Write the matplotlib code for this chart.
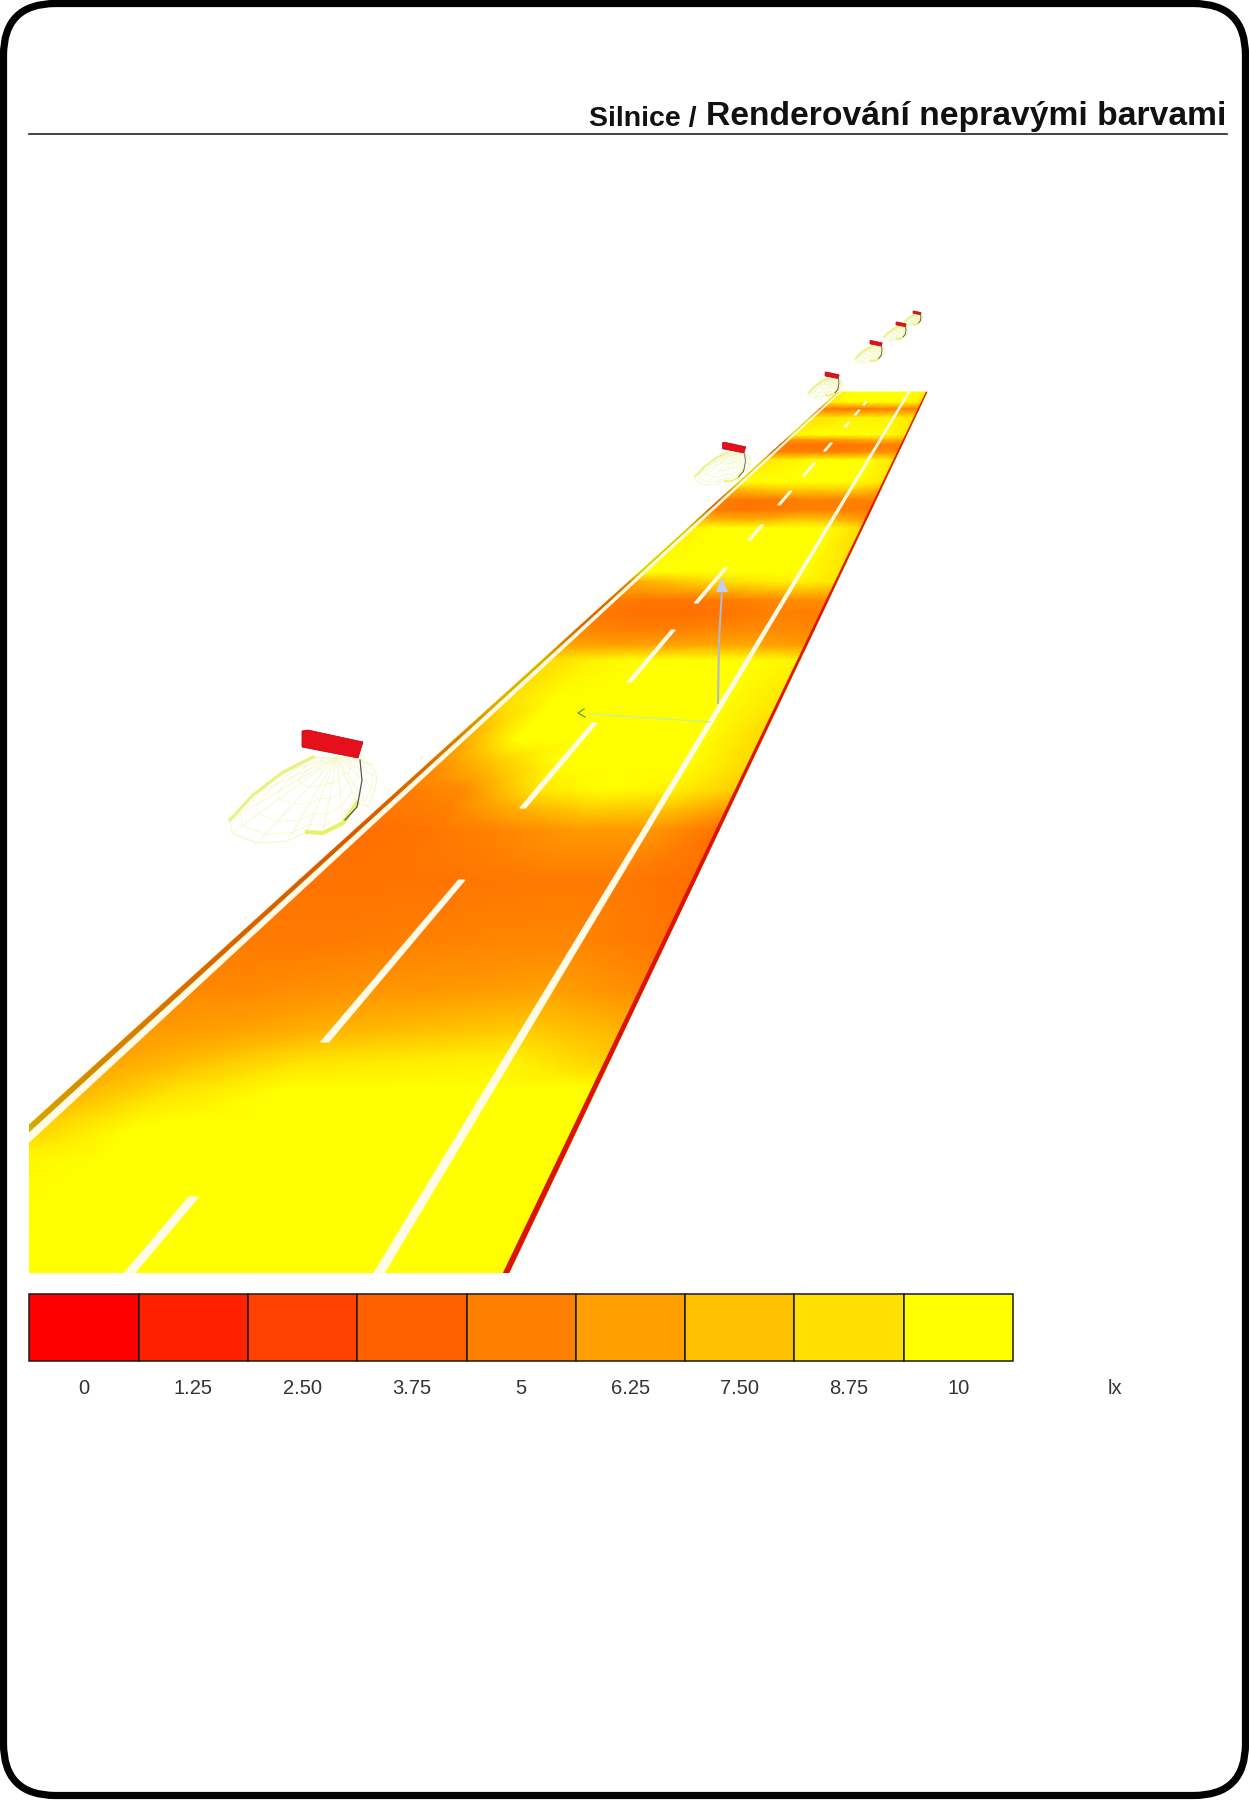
"""False-colour road rendering page (Silnice / Renderování nepravými barvami)."""

import numpy as np
import matplotlib
matplotlib.use("Agg")
import matplotlib.pyplot as plt
from matplotlib.colors import LinearSegmentedColormap
from matplotlib.patches import FancyBboxPatch, Polygon, Rectangle

plt.rcParams["font.family"] = ["Liberation Sans", "DejaVu Sans"]

# legend of the false colours
LEGEND_VALUES = [0, 1.25, 2.5, 3.75, 5, 6.25, 7.5, 8.75, 10]
LEGEND_LABELS = ["0", "1.25", "2.50", "3.75", "5", "6.25", "7.50", "8.75", "10"]
UNIT = "lx"

# illuminance read off the road: one row per picture height, one column per
# fraction of the road width (left edge to right edge)
FIELD_U = [0.0, 0.2, 0.4, 0.6, 0.8, 1.0]
FIELD_Y = [392, 402, 409, 418, 435, 440, 445, 452, 460, 482, 490, 500, 510, 520,
           528, 572, 582, 600, 613, 630, 645, 660, 700, 740, 765, 790, 810, 830, 880,
           940, 990, 1030, 1060, 1090, 1127, 1160, 1273]
FIELD_LUX = [
    [9.5, 10, 10, 10, 10, 9.5],
    [9, 10, 10, 10, 10, 9],
    [5, 4.5, 4.5, 4.8, 5, 5],
    [9, 9, 9.5, 9.5, 9.5, 9],
    [9.5, 10, 10, 10, 10, 9],
    [6, 6, 6, 6.5, 7, 7],
    [4.8, 4.5, 4.5, 4.6, 4.8, 5],
    [5, 5, 5, 5, 5.5, 5.5],
    [9, 9.5, 10, 10, 10, 9],
    [10, 10, 10, 10, 10, 9],
    [7, 7.5, 8, 8, 8, 7],
    [5, 4.6, 4.8, 5, 5, 5],
    [5, 4.6, 4.8, 5, 5, 4.8],
    [7.5, 7, 7, 8, 7.5, 6],
    [9.5, 10, 10, 10, 10, 8.5],
    [10, 10, 10, 10, 10, 9],
    [6.5, 7.5, 8.5, 9, 9.5, 9],
    [5, 4.6, 4.6, 5, 5.5, 5.5],
    [4.8, 4.4, 4.4, 4.6, 5, 5],
    [5.3, 5, 5, 5.3, 5.5, 5.3],
    [6.5, 6.3, 6.3, 6.5, 6.5, 6],
    [8.5, 9.5, 10, 10, 10, 9.5],
    [8.5, 10, 10, 10, 10, 9],
    [6, 10, 10, 10, 10, 8.5],
    [5.2, 7.5, 10, 10, 10, 8.5],
    [4.8, 5.5, 9, 10, 9.5, 8],
    [4.6, 5, 6.8, 8, 7.8, 6],
    [4.3, 4.6, 5.2, 6, 6, 4.5],
    [4.5, 4.5, 4.6, 4.8, 4.8, 4.3],
    [4.8, 4.8, 5, 5.2, 5.2, 4.6],
    [5.3, 5.5, 5.8, 6, 6.3, 5.5],
    [6, 6.3, 7, 7.5, 8, 7],
    [6.3, 7.5, 8.8, 9.2, 9.5, 8],
    [6.8, 8.8, 10, 10, 10, 10],
    [8, 10, 10, 10, 10, 10],
    [9.5, 10, 10, 10, 10, 10],
    [10, 10, 10, 10, 10, 10],
]

# centre line dashes: (far end, near end) as picture heights
DASH_Y = [(402, 405), (410, 415), (422, 427), (443, 451), (463, 476), (491, 505),
          (525, 540), (568, 603), (630, 682), (723, 808), (880, 1042), (1197, 1273)]

# luminaires, near to far
LUM_X = [332, 734, 832, 876, 901, 917]
LUM_Y = [745, 448, 375.5, 343.5, 324.5, 313]
LUM_SCALE = [1.0, 0.38, 0.23, 0.2, 0.165, 0.13]

# road outline in picture pixels
TOP_Y, BOTTOM_Y, CLIP_X = 392, 1273, 29


def road_left(y):
    return 838 - (np.asarray(y, dtype=float) - TOP_Y) * 1.1037


def road_right(y):
    return 927 - (np.asarray(y, dtype=float) - TOP_Y) * 0.4745


def road_x(u, y):
    return road_left(y) + u * (road_right(y) - road_left(y))


def strip(ax, u0, u1, y0, y1, lw=0.0, **kw):
    """Piece of road between two width fractions, so it narrows with the distance."""
    pts = [(road_x(u0, y0), y0), (road_x(u1, y0), y0), (road_x(u1, y1), y1), (road_x(u0, y1), y1)]
    poly = Polygon(pts, closed=True, linewidth=lw, **kw)
    ax.add_patch(poly)
    poly.set_clip_path(Rectangle((CLIP_X, 0), 1249, BOTTOM_Y, transform=ax.transData))
    return poly


def luminaire(ax, cx, cy, s):
    # wire frame of the light distribution, offsets from the housing centre
    rim_x = np.array([-19, -49, -79, -102, -100, -75, -45, -25, -9, 11, 25, 36, 43, 45, 40, 28])
    rim_y = np.array([12, 27, 50, 75, 88, 98, 96, 87, 88, 78, 58, 62, 45, 32, 20, 14])
    top_x, top_y = 5.0, 12.0
    faint = "#f2f7b8"
    lw = max(0.45, 0.6 * s)
    for t in (0.35, 0.55, 0.75, 0.9):
        ax.plot(cx + s * (top_x + t * (rim_x - top_x)), cy + s * (top_y + t * (rim_y - top_y)),
                color=faint, lw=lw, alpha=0.7 + 0.3 * (s < 0.5))
    for rx, ry in zip(rim_x, rim_y):
        ax.plot(cx + s * np.array([top_x, rx]), cy + s * np.array([top_y, ry]),
                color=faint, lw=lw, alpha=0.8)
    ax.plot(cx + s * rim_x, cy + s * rim_y, color=faint, lw=lw)
    # stronger parts of the outline
    ax.plot(cx + s * rim_x[:4], cy + s * rim_y[:4], color="#e8f280", lw=max(1.2, 2.2 * s))
    ax.plot(cx + s * rim_x[7:11], cy + s * rim_y[7:11], color="#e8f268", lw=max(1.2, 3.0 * s))
    dark_x = np.array([28, 30, 27, 25, 13])
    dark_y = np.array([15, 35, 52, 62, 75])
    ax.plot(cx + s * dark_x, cy + s * dark_y, color="#555550", lw=max(0.6, 0.9 * s))
    # housing
    box = np.array([[-30, -14], [-24, -15], [31, -3], [26, 13], [-30, 2]], dtype=float)
    ax.add_patch(Polygon(np.array([cx, cy]) + s * box, closed=True, facecolor="#e6101c",
                         edgecolor="#c00c14", linewidth=0.6, zorder=5))


def main():
    fig = plt.figure(figsize=(12.49, 18), dpi=100, facecolor="white")
    ax = fig.add_axes([0, 0, 1, 1])
    ax.set_xlim(0, 1249)
    ax.set_ylim(1800, 0)
    ax.axis("off")

    # page frame
    ax.add_patch(FancyBboxPatch((3.5, 3.5), 1242, 1792, boxstyle="round,pad=0,rounding_size=52",
                                facecolor="none", edgecolor="black", linewidth=5.2))

    # heading
    ax.text(1226, 125, "Renderování nepravými barvami", ha="right", va="baseline",
            fontsize=24.2, fontweight="bold", color="#111111")
    ax.text(697, 126, "Silnice /", ha="right", va="baseline",
            fontsize=20.5, fontweight="bold", color="#111111")
    ax.plot([29, 1227], [133.5, 133.5], color="#222222", lw=1.2)

    # road surface
    cmap = LinearSegmentedColormap.from_list("false", ["#ff0000", "#ff8000", "#ffff00"])
    y = np.array(FIELD_Y, dtype=float)
    u = np.array(FIELD_U)
    yy, uu = np.meshgrid(y, u, indexing="ij")
    mesh = ax.pcolormesh(road_x(uu, yy), yy, np.array(FIELD_LUX), shading="gouraud",
                         cmap=cmap, vmin=0, vmax=10)
    mesh.set_clip_path(Rectangle((CLIP_X, 0), 1249, BOTTOM_Y, transform=ax.transData))

    # road markings and edges
    mark = "#fffbe6"
    strip(ax, 0.0, 0.016, TOP_Y, BOTTOM_Y, facecolor="black", alpha=0.17, zorder=3)
    strip(ax, 0.016, 0.034, TOP_Y, BOTTOM_Y, lw=0.5, facecolor=mark, edgecolor=mark, zorder=3)
    strip(ax, 0.79, 0.806, TOP_Y, BOTTOM_Y, lw=0.8, facecolor=mark, edgecolor=mark, zorder=3)
    strip(ax, 0.991, 1.0, TOP_Y, BOTTOM_Y, lw=0.4, facecolor="#dc1208", edgecolor="#dc1208", zorder=3)
    for y0, y1 in DASH_Y:
        strip(ax, 0.402, 0.418, y0, y1, lw=0.8, facecolor=mark, edgecolor=mark, zorder=3)

    # axes arrows on the road
    ax.plot([718, 719, 722], [703, 640, 590], color="#b4b8cc", lw=1.5, zorder=4)
    ax.add_patch(Polygon([(722, 577), (716, 592), (728, 592)], closed=True, facecolor="#c4ccf0",
                         edgecolor="none", zorder=4))
    ax.plot([710, 590], [722, 714], color="#c8f098", lw=1.0, zorder=4)
    ax.plot([585, 578, 584], [717, 713, 709], color="#70a040", lw=1.0, zorder=4)

    for lx, ly, ls in zip(LUM_X, LUM_Y, LUM_SCALE):
        luminaire(ax, lx, ly, ls)

    # colour legend
    cell_w = (1013 - 29.5) / len(LEGEND_VALUES)
    for i, (val, lab) in enumerate(zip(LEGEND_VALUES, LEGEND_LABELS)):
        x0 = 29.5 + i * cell_w
        ax.add_patch(Rectangle((x0, 1294), cell_w, 67, facecolor=cmap(val / 10),
                               edgecolor="#1a1a1a", linewidth=1.1))
        ax.text(x0 + cell_w / 2, 1389, lab, ha="center", va="center", fontsize=14.5, color="#333333")
    ax.text(1115, 1389, UNIT, ha="center", va="center", fontsize=14.5, color="#333333")

    fig.savefig("out.png", dpi=100)
    plt.close(fig)


if __name__ == "__main__":
    main()
